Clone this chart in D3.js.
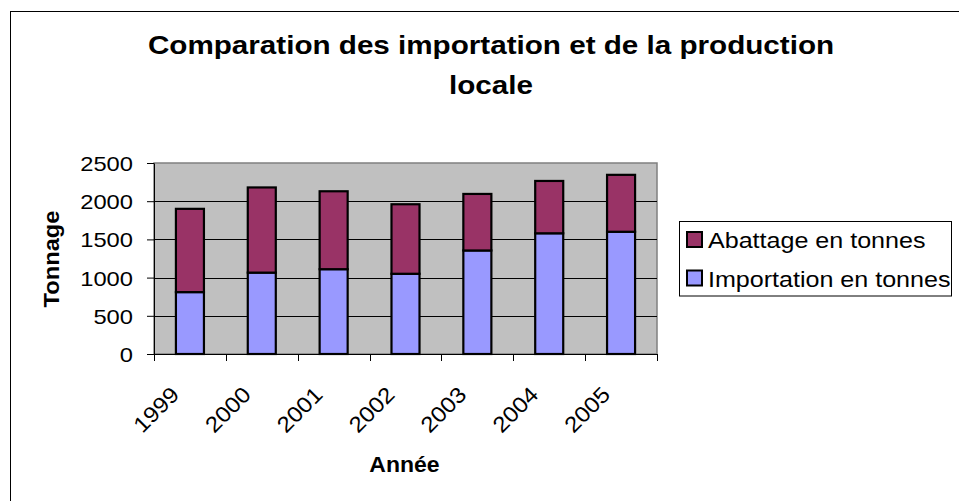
<!DOCTYPE html>
<html>
<head>
<meta charset="utf-8">
<script src="https://cdn.jsdelivr.net/npm/d3@7"></script>
<style>
  html, body { margin: 0; padding: 0; background: #fff; }
  svg { display: block; font-family: Arial, "Liberation Sans", sans-serif; }
</style>
</head>
<body>
<svg id="chart" width="959" height="501"></svg>
<script>
// ---- data ----
const years = ["1999", "2000", "2001", "2002", "2003", "2004", "2005"];
const importation = [810, 1065, 1110, 1050, 1355, 1580, 1600];
const abattage = [1090, 1115, 1020, 910, 740, 685, 745];
const seriesNames = ["Abattage en tonnes", "Importation en tonnes"];
const yTicks = [0, 500, 1000, 1500, 2000, 2500];
const titleLines = ["Comparation des importation et de la production", "locale"];
const xTitle = "Année";
const yTitle = "Tonnage";

const colImport = "#9999FF";
const colAbattage = "#993366";

const svg = d3.select("#chart");

// outer frame (extends beyond viewport at right/bottom)
svg.append("rect")
  .attr("x", 10.5).attr("y", 11.5).attr("width", 1000).attr("height", 600)
  .attr("fill", "#fff").attr("stroke", "#000").attr("stroke-width", 1);

// helper: text stretched along its own direction
function stretchedText(g, str, x, y, opts) {
  const o = Object.assign({size: 20, weight: "normal", anchor: "start", rotate: 0, sx: 1.12}, opts || {});
  return g.append("text")
    .attr("transform", `translate(${x},${y}) rotate(${o.rotate}) scale(${o.sx},1)`)
    .attr("text-anchor", o.anchor)
    .attr("font-size", o.size)
    .attr("font-weight", o.weight)
    .attr("fill", "#000")
    .text(str);
}

// ---- plot area ----
const pLeft = 154, pRight = 657, pTop = 163, pBottom = 354;

const x = d3.scaleBand().domain(years).range([pLeft, pRight])
  .paddingInner(0.61).paddingOuter(0.305);
const y = d3.scaleLinear().domain([0, 2500]).range([pBottom, pTop]);

svg.append("rect")
  .attr("x", pLeft).attr("y", pTop).attr("width", pRight - pLeft).attr("height", pBottom - pTop)
  .attr("fill", "#C0C0C0").attr("stroke", "#808080").attr("stroke-width", 1.5);

// gridlines
svg.append("g").selectAll("line")
  .data(yTicks.filter(d => d > 0 && d < 2500))
  .join("line")
  .attr("x1", pLeft).attr("x2", pRight)
  .attr("y1", d => Math.round(y(d)) + 0.5).attr("y2", d => Math.round(y(d)) + 0.5)
  .attr("stroke", "#000").attr("stroke-width", 1);

// stacked bars
const rows = years.map((yr, i) => ({year: yr, Importation: importation[i], Abattage: abattage[i]}));
const stack = d3.stack().keys(["Importation", "Abattage"]);
const stacked = stack(rows);
const colors = {Importation: colImport, Abattage: colAbattage};

svg.append("g").selectAll("g")
  .data(stacked)
  .join("g")
  .attr("fill", d => colors[d.key])
  .selectAll("rect")
  .data(d => d)
  .join("rect")
  .attr("x", d => x(d.data.year))
  .attr("width", x.bandwidth())
  .attr("y", d => y(d[1]))
  .attr("height", d => y(d[0]) - y(d[1]))
  .attr("stroke", "#000").attr("stroke-width", 2.2);

// y axis
const yAxis = svg.append("g")
  .attr("transform", `translate(${pLeft},0)`)
  .call(d3.axisLeft(y).tickValues(yTicks).tickSize(7).tickSizeOuter(0).tickFormat(d3.format("d")));
yAxis.select(".domain").attr("stroke", "#000");
yAxis.selectAll(".tick line").attr("stroke", "#000");
yAxis.selectAll(".tick text")
  .attr("x", null).attr("dy", null)
  .attr("transform", "translate(-21,7.5) scale(1.13,1)")
  .attr("font-size", 21)
  .attr("font-family", "Arial, 'Liberation Sans', sans-serif")
  .attr("fill", "#000");

// x axis
const xAxis = svg.append("g")
  .attr("transform", `translate(0,${pBottom})`)
  .call(d3.axisBottom(x).tickSize(0).tickSizeOuter(0));
xAxis.select(".domain").attr("stroke", "#000");
xAxis.selectAll(".tick text")
  .attr("y", null).attr("dy", null)
  .attr("text-anchor", "end")
  .attr("transform", "translate(-9.5,42) rotate(-45) scale(1.1,1)")
  .attr("font-size", 22)
  .attr("font-family", "Arial, 'Liberation Sans', sans-serif")
  .attr("fill", "#000");

// category boundary ticks
const step = x.step();
const boundaries = years.map(yr => x(yr) - (step - x.bandwidth()) / 2).concat([pRight]);
svg.append("g").selectAll("line")
  .data(boundaries)
  .join("line")
  .attr("x1", d => Math.round(d) + 0.5).attr("x2", d => Math.round(d) + 0.5)
  .attr("y1", pBottom).attr("y2", pBottom + 7)
  .attr("stroke", "#000").attr("stroke-width", 1);

// ---- titles ----
const tg = svg.append("g");
stretchedText(tg, titleLines[0], 491, 54, {size: 26, weight: "bold", anchor: "middle", sx: 1.14});
stretchedText(tg, titleLines[1], 491, 94, {size: 26, weight: "bold", anchor: "middle", sx: 1.14});
stretchedText(tg, xTitle, 404.5, 471.5, {size: 21.5, weight: "bold", anchor: "middle", sx: 1.07});
stretchedText(tg, yTitle, 59, 259, {size: 21.5, weight: "bold", anchor: "middle", rotate: -90, sx: 1.1});

// ---- legend ----
const lg = svg.append("g");
lg.append("rect")
  .attr("x", 679.5).attr("y", 221.5).attr("width", 272).attr("height", 74.5)
  .attr("fill", "#fff").attr("stroke", "#000").attr("stroke-width", 1);
const legendItems = [
  {name: seriesNames[0], color: colAbattage, y: 248},
  {name: seriesNames[1], color: colImport, y: 286.5}
];
legendItems.forEach(it => {
  lg.append("rect")
    .attr("x", 687).attr("y", it.y - 16).attr("width", 15).attr("height", 15)
    .attr("fill", it.color).attr("stroke", "#000").attr("stroke-width", 2);
  stretchedText(lg, it.name, 708, it.y, {size: 22, anchor: "start", sx: 1.14});
});
</script>
</body>
</html>
